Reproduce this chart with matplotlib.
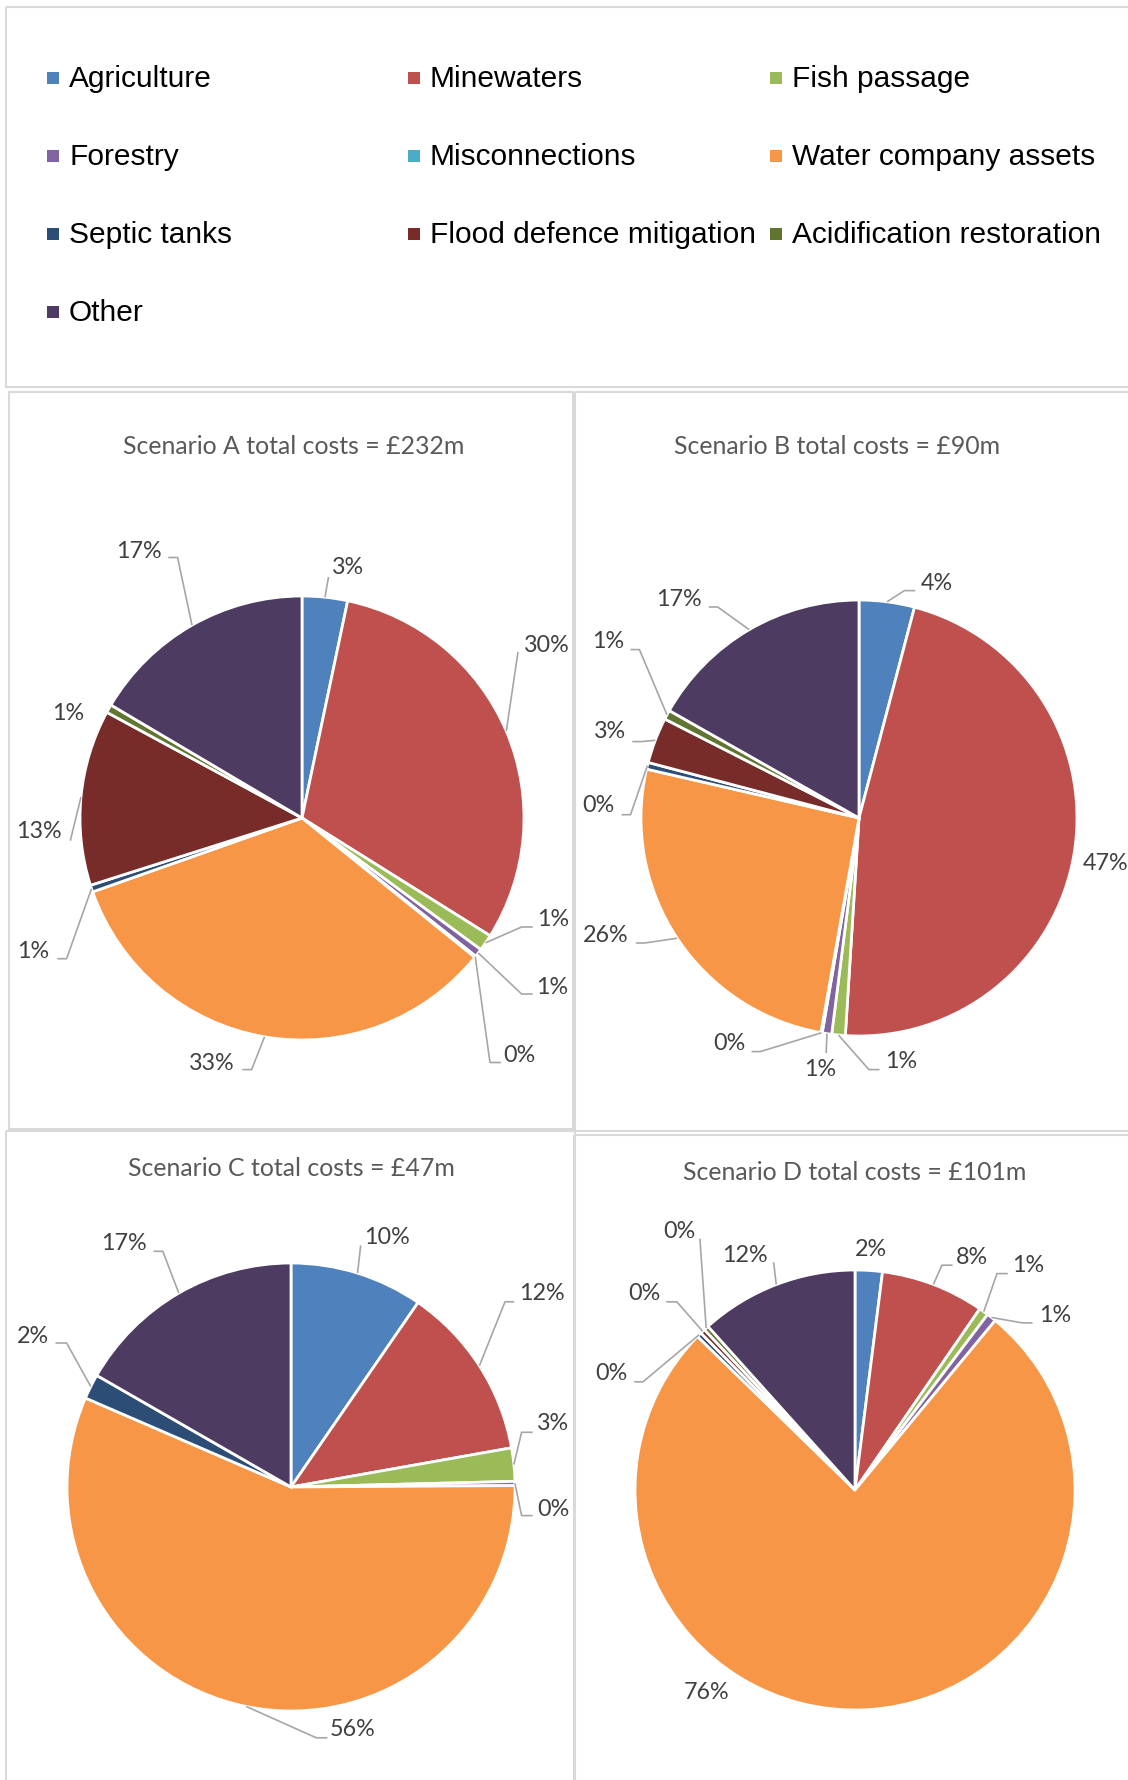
import matplotlib
matplotlib.use("Agg")
import matplotlib.pyplot as plt
from matplotlib.patches import Rectangle
import numpy as np

W, H = 1128, 1780

# ---------------- data ----------------
categories = ["Agriculture", "Minewaters", "Fish passage",
              "Forestry", "Misconnections", "Water company assets",
              "Septic tanks", "Flood defence mitigation", "Acidification restoration",
              "Other"]
colors = ["#4F81BD", "#C0504D", "#9BBB59", "#8064A2", "#4BACC6",
          "#F79646", "#2C4D75", "#772C2A", "#5F7530", "#4D3B62"]

titles = ["Scenario A total costs = £232m", "Scenario B total costs = £90m",
          "Scenario C total costs = £47m", "Scenario D total costs = £101m"]

# slice shares (%)
shares_A = [3.3, 30.6, 1.2, 0.6, 0.1, 33.8, 0.5, 12.8, 0.6, 16.5]
shares_B = [4.1, 46.9, 1.0, 0.7, 0.1, 25.8, 0.5, 3.4, 0.7, 16.8]
shares_C = [9.6, 12.6, 2.4, 0.3, 0.0, 56.6, 1.8, 0.0, 0.0, 16.7]
shares_D = [2.0, 7.6, 0.7, 0.7, 0.0, 76.3, 0.35, 0.35, 0.35, 11.65]

# data labels as displayed (None = no label)
labels_A = ["3%", "30%", "1%", "1%", "0%", "33%", "1%", "13%", "1%", "17%"]
labels_B = ["4%", "47%", "1%", "1%", "0%", "26%", "0%", "3%", "1%", "17%"]
labels_C = ["10%", "12%", "3%", "0%", None, "56%", "2%", None, None, "17%"]
labels_D = ["2%", "8%", "1%", "1%", None, "76%", "0%", "0%", "0%", "12%"]

# ---------------- layout (pixels) ----------------
pie_geom = [(302, 818, 222), (859, 818, 218), (291, 1487, 224), (855, 1490, 220)]
title_pos = [(294, 446), (837, 446), (291, 1168), (855, 1172)]

# label text centre + leader path (after the arc point)
lay_A = [((348, 566), [(328.5, 577)]),
         ((547, 644), [(518, 652)]),
         ((553, 918), [(521.6, 927), (532.7, 927)]),
         ((552, 987), [(521.6, 994), (532.7, 994)]),
         ((519, 1055), [(490, 1062.5), (501, 1062.5)]),
         ((212, 1063), [(251.6, 1069.6), (242.3, 1069.6)]),
         ((33, 951), [(66.6, 958.7), (57.3, 958.7)]),
         ((39, 831), [(70.3, 840.7)]),
         ((68, 713), []),
         ((139, 550), [(177.6, 557.5), (168.3, 557.5)])]
lay_B = [((936.5, 582.5), [(904.5, 590.6), (915.2, 590.6)]),
         ((1106, 862), []),
         ((901, 1060), [(868.9, 1069.6), (879.6, 1069.6)]),
         ((820, 1069), [(826.2, 1053)]),
         ((729, 1043), [(760.4, 1051.6), (751.5, 1051.6)]),
         ((606, 934), [(644.7, 943), (635.8, 943)]),
         ((598.5, 805), [(630.5, 814.7), (621.6, 814.7)]),
         ((610, 731), [(641.2, 741.6), (632.3, 741.6)]),
         ((608, 640), [(639.4, 649.6), (630.5, 649.6)]),
         ((679, 598), [(717.7, 607), (708.8, 607)])]
lay_C = [((386.6, 1236), [(360.7, 1245.4)]),
         ((542, 1293), [(505, 1301.8), (514.2, 1301.8)]),
         ((553, 1423), [(521.6, 1432.3), (532.7, 1432.3)]),
         ((553, 1508), [(521.6, 1515.6), (532.7, 1515.6)]),
         None,
         ((353, 1729), [(316.3, 1737.8), (327.4, 1737.8)]),
         ((32.6, 1335.5), [(66.6, 1343), (55.5, 1343)]),
         None, None,
         ((124, 1242), [(162.8, 1251.3), (153.5, 1251.3)])]
lay_D = [((870.7, 1248.4), []),
         ((972, 1257), [(941.9, 1265.2), (952.6, 1265.2)]),
         ((1028, 1265), [(997, 1273.6), (1007.7, 1273.6)]),
         ((1054.7, 1314.4), [(1022, 1322.9), (1032.6, 1322.9)]),
         None,
         ((706.3, 1691.5), []),
         ((611, 1372.5), [(643, 1381.8), (634.1, 1381.8)]),
         ((644.7, 1292.6), [(676.8, 1301.8), (666.1, 1301.8)]),
         ((679.6, 1230.3), [(699.9, 1238.7)]),
         ((745, 1254), [(773.6, 1262.3)])]

all_shares = [shares_A, shares_B, shares_C, shares_D]
all_labels = [labels_A, labels_B, labels_C, labels_D]
all_lay = [lay_A, lay_B, lay_C, lay_D]

LBL_FONT = ["Lato", "DejaVu Sans"]
LEG_FONT = ["Liberation Sans", "DejaVu Sans"]
BORDER = "#D9D9D9"
LEADER = "#A6A6A6"

fig = plt.figure(figsize=(W / 100, H / 100), dpi=100)
fig.patch.set_facecolor("white")

# overlay axes in pixel coordinates (borders, legend, text)
ov = fig.add_axes([0, 0, 1, 1], zorder=2)
ov.set_xlim(0, W)
ov.set_ylim(H, 0)
ov.axis("off")

# panel borders
boxes = [(6, 7, 1130, 387), (9, 392, 573, 1129), (575, 392, 1130, 1131),
         (6, 1131, 575, 1782), (574, 1135, 1130, 1782)]
for x0, y0, x1, y1 in boxes:
    ov.add_patch(Rectangle((x0, y0), x1 - x0, y1 - y0, fill=False,
                           edgecolor=BORDER, linewidth=1.5))

# legend
col_x = [47, 408, 770]
row_base = [87, 165, 243, 321]
for i, (cat, col) in enumerate(zip(categories, colors)):
    r, c = divmod(i, 3)
    mx, by = col_x[c], row_base[r]
    ov.add_patch(Rectangle((mx, by - 15), 12, 12, facecolor=col, edgecolor="none"))
    ov.text(mx + 22, by, cat, fontsize=21.5, family=LEG_FONT, color="#000000",
            ha="left", va="baseline")

for k in range(4):
    cx, cy, r = pie_geom[k]
    ax = fig.add_axes([(cx - r) / W, 1 - (cy + r) / H, 2 * r / W, 2 * r / H], zorder=1)
    shares = all_shares[k]
    idx = [i for i, v in enumerate(shares) if v > 0]
    wedges, _ = ax.pie([shares[i] for i in idx], colors=[colors[i] for i in idx],
                       startangle=90, counterclock=False, radius=1,
                       wedgeprops=dict(edgecolor="white", linewidth=2))
    ax.set_xlim(-1, 1)
    ax.set_ylim(-1, 1)
    ax.set_aspect("equal")
    ax.axis("off")
    for w in wedges:
        w.set_clip_on(False)
    wedge_of = dict(zip(idx, wedges))

    tx, ty = title_pos[k]
    ov.text(tx, ty, titles[k], fontsize=17.9, family=LBL_FONT, color="#595959",
            ha="center", va="center")

    for i, lab in enumerate(all_labels[k]):
        lay = all_lay[k][i]
        if lab is None or lay is None:
            continue
        (lx, ly), path = lay
        if path and i in wedge_of:
            w = wedge_of[i]
            mid = np.deg2rad((w.theta1 + w.theta2) / 2)
            X, Y = ax.transData.transform((np.cos(mid), np.sin(mid)))
            pts = [(X, H - Y)] + list(path)
            ov.plot([p[0] for p in pts], [p[1] for p in pts], color=LEADER,
                    linewidth=1.2, solid_capstyle="butt", zorder=3)
        ov.text(lx, ly + 1, lab, fontsize=16.8, family=LBL_FONT, color="#404040",
                ha="center", va="center", zorder=4)

fig.savefig("out.png", dpi=100)
